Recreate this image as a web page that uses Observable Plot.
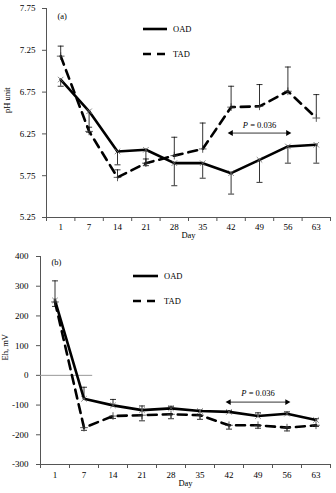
<!DOCTYPE html>
<html>
<head>
<meta charset="utf-8">
<script src="https://cdn.jsdelivr.net/npm/d3@7"></script>
<script src="https://cdn.jsdelivr.net/npm/@observablehq/plot@0.6"></script>
<style>
  html, body { margin: 0; padding: 0; background: white; }
  #chart { width: 336px; font-family: "Liberation Serif", "Times New Roman", serif; }
  .panel { position: relative; width: 336px; }
  .panel svg { display: block; }
  .legend { position: absolute; font-family: "Liberation Serif", "Times New Roman", serif; font-size: 8.5px; color: #000; }
  .legend .row { position: absolute; display: flex; align-items: center; white-space: nowrap; }
  .legend .row span { margin-left: 6px; }
</style>
</head>
<body>
<div id="chart"></div>
<script>
// ---- data ----
const days = ["1", "7", "14", "21", "28", "35", "42", "49", "56", "63"];
const series = ["OAD", "TAD"];

// Panel (a) pH
const phOAD     = [6.90, 6.52, 6.04, 6.06, 5.90, 5.90, 5.78, 5.94, 6.10, 6.12];
const phOADlow  = [6.82, 6.27, 5.88, 5.87, 5.63, 5.72, 5.53, 5.67, 5.90, 5.90];
const phTAD     = [7.18, 6.28, 5.73, 5.90, 5.99, 6.07, 6.57, 6.58, 6.76, 6.44];
const phTADhigh = [7.30, 6.33, 5.82, 5.95, 6.21, 6.38, 6.82, 6.84, 7.05, 6.72];
const phTicks   = [5.25, 5.75, 6.25, 6.75, 7.25, 7.75];

// Panel (b) Eh
const ehOAD     = [252, -79, -101, -117, -111, -120, -123, -137, -129, -150];
const ehOADhigh = [318, -40, -81, -103, -104, -117, -119, -126, -123, -146];
const ehTAD     = [247, -176, -137, -134, -131, -134, -168, -168, -176, -168];
const ehTADlow  = [232, -185, -145, -153, -146, -148, -181, -178, -187, -172];
const ehTicks   = [-300, -200, -100, 0, 100, 200, 300, 400];

const pLabel = "P = 0.036";
const pFrom = "42", pTo = "56";

// ---- helpers ----
const hbar = { draw(ctx, size) { const w = Math.sqrt(size); ctx.moveTo(-w, 0); ctx.lineTo(w, 0); } };
const idx = d => days.indexOf(d) + 0.5;

function rows(vals, errs) {
  return days.map((d, i) => ({ x: i + 0.5, v: vals[i], e: errs[i] }));
}

function makePanel(o) {
  const oad = rows(o.oad, o.oadErr);
  const tad = rows(o.tad, o.tadErr);
  const ann = [{ x1: idx(pFrom), x2: idx(pTo), y: o.arrowY }];
  const marks = [
    Plot.ruleX([0], { stroke: "#555", strokeWidth: 1 }),
    Plot.ruleY([o.yDomain[0]], { stroke: "#555", strokeWidth: 1, insetLeft: -3 }),
    Plot.axisY({ ticks: o.yTicks, tickSize: 4, tickPadding: o.yPad, tickFormat: o.yFormat, label: null, stroke: "#555", fontSize: 9 }),
    Plot.axisX({ ticks: d3.range(0, days.length + 1), tickSize: 4, tickFormat: () => "", label: null, stroke: "#555" }),
    Plot.axisX({ ticks: days.map((d, i) => i + 0.5), tickSize: 0, tickPadding: o.xPad, tickFormat: v => days[Math.floor(v)], label: null, fontSize: 9 }),
    Plot.text(["Day"], { frameAnchor: "bottom", dy: o.dayDy, text: d => d, fontSize: 8.5 }),
    Plot.text([o.yLabel], { frameAnchor: "left", rotate: -90, dx: o.yLabelDx, text: d => d, fontSize: 8.5 }),
    Plot.text([o.tag], { frameAnchor: "top-left", dx: o.tagDx, dy: o.tagDy, text: d => d, fontSize: 8.5 }),
  ];
  if (o.zeroLine) marks.push(Plot.ruleY([0], { x1: 0, x2: o.zeroLine, stroke: "#999", strokeWidth: 1 }));
  marks.push(
    // error bars
    Plot.ruleX(oad, { x: "x", y1: "v", y2: "e", stroke: "#000", strokeWidth: 0.8 }),
    Plot.dot(oad, { x: "x", y: "e", symbol: hbar, r: 1.7, stroke: "#000", strokeWidth: 0.8 }),
    Plot.ruleX(tad, { x: "x", y1: "v", y2: "e", stroke: "#000", strokeWidth: 0.8 }),
    Plot.dot(tad, { x: "x", y: "e", symbol: hbar, r: 1.7, stroke: "#000", strokeWidth: 0.8 }),
    // lines
    Plot.line(oad, { x: "x", y: "v", stroke: "#000", strokeWidth: 2.6 }),
    Plot.line(tad, { x: "x", y: "v", stroke: "#000", strokeWidth: 2.6, strokeDasharray: "9,6" }),
    Plot.dot(oad, { x: "x", y: "v", symbol: "times", r: 2.6, stroke: "#666", strokeWidth: 0.8 }),
    Plot.dot(tad, { x: "x", y: "v", symbol: "plus", r: 2.6, stroke: "#333", strokeWidth: 0.8 }),
    // P annotation
    Plot.link(ann, { x1: "x1", x2: "x2", y1: "y", y2: "y", stroke: "#000", strokeWidth: 0.8 }),
    Plot.dot(ann, { x: "x1", y: "y", symbol: "triangle", r: 2.2, fill: "#000", rotate: -90 }),
    Plot.dot(ann, { x: "x2", y: "y", symbol: "triangle", r: 2.2, fill: "#000", rotate: 90 }),
    Plot.text(ann, { x: d => (d.x1 + d.x2) / 2, y: "y", dy: o.pDy, text: () => pLabel, fontSize: 8.5 })
  );
  const svg = Plot.plot({
    width: 336,
    height: o.height,
    marginTop: o.mt, marginBottom: o.mb, marginLeft: o.ml, marginRight: 6,
    style: { fontFamily: "Liberation Serif, Times New Roman, serif", fontSize: "9px", background: "white", color: "#000" },
    x: { type: "linear", domain: [0, days.length], axis: null },
    y: { domain: o.yDomain, axis: null },
    marks
  });
  d3.select(svg).selectAll("text").each(function () {
    if (this.textContent === pLabel) {
      this.innerHTML = '<tspan font-style="italic">P</tspan> = 0.036';
    }
  });
  const panel = document.createElement("div");
  panel.className = "panel";
  panel.appendChild(svg);
  const leg = document.createElement("div");
  leg.className = "legend";
  leg.style.left = o.legX + "px";
  leg.style.top = "0px";
  series.forEach((s, i) => {
    const row = document.createElement("div");
    row.className = "row";
    row.style.left = "0px";
    row.style.top = (o.legY + i * 25 - 4) + "px";
    const dash = i === 1 ? ' stroke-dasharray="8,6"' : '';
    row.innerHTML = `<svg width="${o.legW}" height="8"><line x1="0" x2="${o.legW}" y1="4" y2="4" stroke="#000" stroke-width="2.6"${dash}/></svg><span>${s}</span>`;
    leg.appendChild(row);
  });
  panel.appendChild(leg);
  return panel;
}

const chart = document.getElementById("chart");
chart.appendChild(makePanel({
  height: 245, mt: 8, mb: 28, ml: 46,
  yDomain: [5.25, 7.75], yTicks: phTicks, yFormat: d3.format(".2f"), yPad: 7,
  xPad: 6, dayDy: 20, yLabel: "pH unit", yLabelDx: -39,
  tag: "(a)", tagDx: 11, tagDy: 4,
  oad: phOAD, oadErr: phOADlow, tad: phTAD, tadErr: phTADhigh,
  arrowY: 6.26, pDy: -8,
  legX: 143, legY: 28, legW: 24
}));
chart.appendChild(makePanel({
  height: 248, mt: 11, mb: 29, ml: 40,
  yDomain: [-300, 400], yTicks: ehTicks, yFormat: d => String(d), yPad: 8,
  xPad: 7, dayDy: 21, yLabel: "Eh, mV", yLabelDx: -35,
  tag: "(b)", tagDx: 11, tagDy: 2,
  oad: ehOAD, oadErr: ehOADhigh, tad: ehTAD, tadErr: ehTADlow,
  zeroLine: 1.8,
  arrowY: -90, pDy: -9,
  legX: 133, legY: 30, legW: 25
}));
</script>
</body>
</html>
